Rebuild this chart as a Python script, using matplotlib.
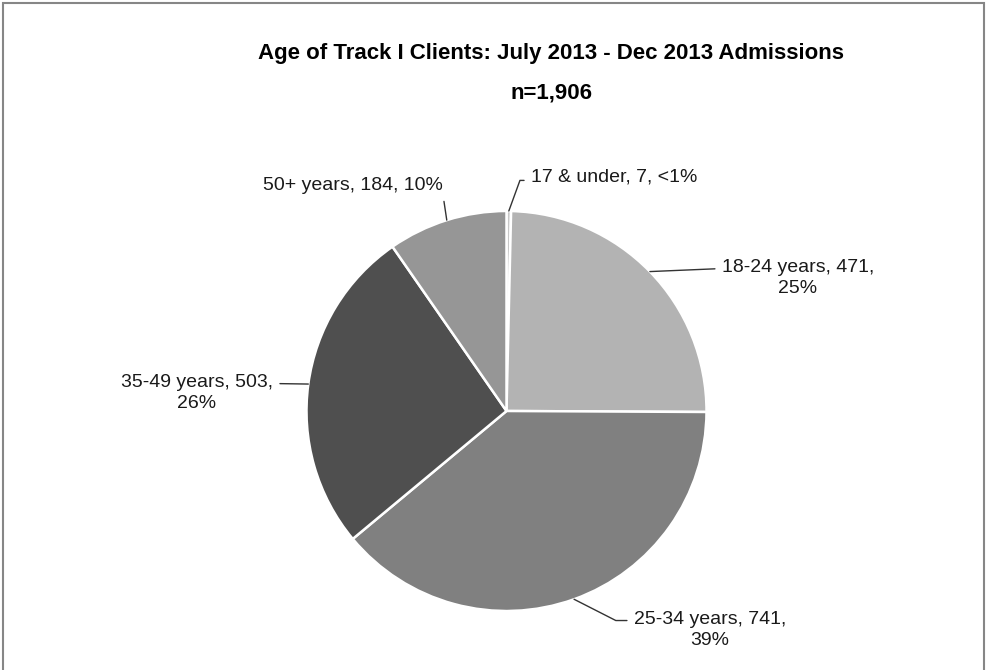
import matplotlib.pyplot as plt
from matplotlib.patches import Rectangle
import numpy as np

groups = ["17 & under", "18-24 years", "25-34 years", "35-49 years", "50+ years"]
counts = [7, 471, 741, 503, 184]
pct_text = ["<1%", "25%", "39%", "26%", "10%"]
colors = ["#c8c8c8", "#b3b3b3", "#808080", "#4f4f4f", "#969696"]

plt.rcParams['font.family'] = ['Liberation Sans', 'DejaVu Sans']

W, H = 988, 670
fig = plt.figure(figsize=(W / 100, H / 100), dpi=100)

# frame round the chart area
fig.patches.append(Rectangle((3 / W, -0.01), (984 - 3) / W, (H - 3) / H + 0.01,
                             transform=fig.transFigure, fill=False,
                             edgecolor="#868686", linewidth=1.5))

cx, cy, r = 506.5, 411, 200
ax = fig.add_axes([(cx - r) / W, (H - cy - r) / H, 2 * r / W, 2 * r / H])
wedges, _ = ax.pie(counts, colors=colors, startangle=90, counterclock=False,
                   radius=1, wedgeprops=dict(edgecolor="white", linewidth=1.8))
ax.set_xlim(-1, 1)
ax.set_ylim(-1, 1)
ax.set_aspect("auto")
ax.axis("off")

# label positions (image pixels), alignment, where the leader meets the text
label_pos = [(531, 177, "left"), (798, 278, "center"), (710, 630, "center"),
             (197, 393, "center"), (353, 186, "center")]
relpos = [(0, 0.3), (0, 0.75), (0, 0.75), (1, 0.75), (1, 0.0)]
conn = ["angle,angleA=0,angleB=70,rad=0", "arc3", "angle,angleA=0,angleB=-27,rad=0",
        "arc3", "arc3"]
texts = [f"{g}, {c}, {p}" if i in (0, 4) else f"{g}, {c},\n{p}"
         for i, (g, c, p) in enumerate(zip(groups, counts, pct_text))]
for i, w in enumerate(wedges):
    ang = np.deg2rad((w.theta1 + w.theta2) / 2)
    px, py, ha = label_pos[i]
    ax.annotate(texts[i], xy=(np.cos(ang), np.sin(ang)), xycoords="data",
                xytext=(px, H - py), textcoords="figure pixels",
                ha=ha, va="center", fontsize=14, color="#1a1a1a",
                linespacing=1.3,
                arrowprops=dict(arrowstyle="-", color="#333333", lw=1,
                                relpos=relpos[i], shrinkA=3, shrinkB=0,
                                connectionstyle=conn[i]))

fig.text(551 / W, 1 - 53 / H, "Age of Track I Clients: July 2013 - Dec 2013 Admissions",
         ha="center", va="center", fontsize=16, fontweight="bold")
fig.text(551 / W, 1 - 93 / H, "n=1,906", ha="center", va="center",
         fontsize=16, fontweight="bold")

fig.savefig("out.png", dpi=100)
